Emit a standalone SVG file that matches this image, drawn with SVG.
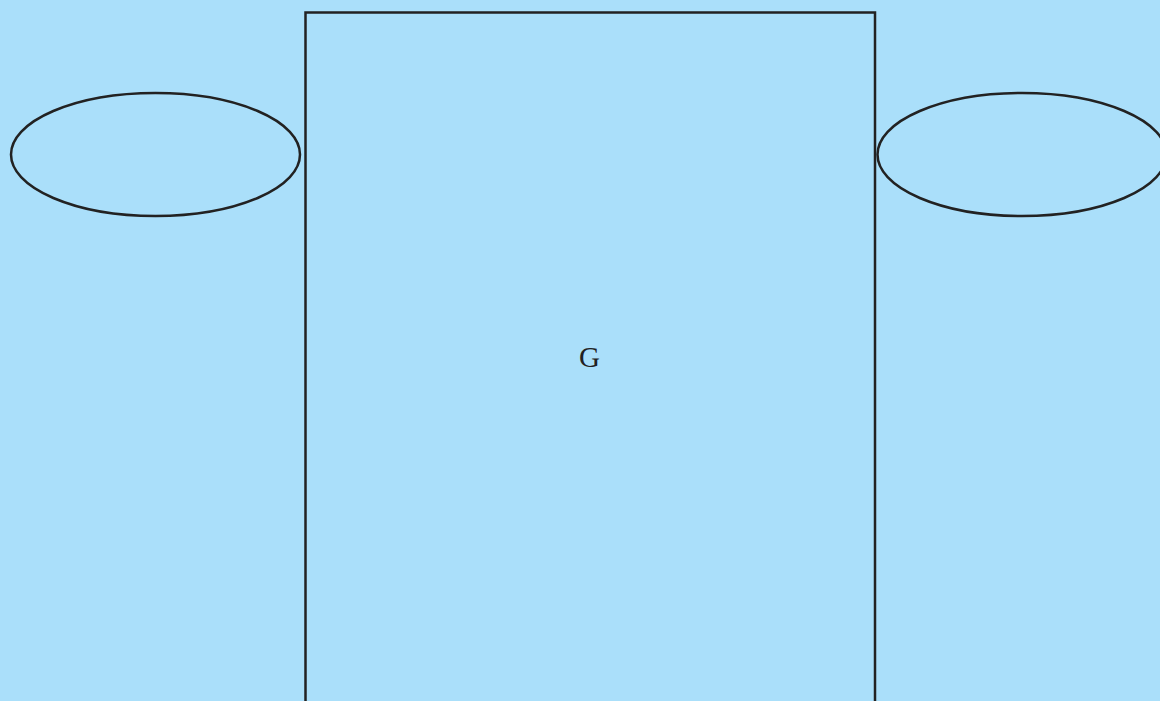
<svg xmlns="http://www.w3.org/2000/svg" width="1160" height="701" viewBox="0 0 1160 701">
<style>
.s{fill:none;stroke:#222222;stroke-width:2.5}
.t{font-family:"Liberation Serif",serif;font-size:29px;fill:#222222;text-anchor:middle}
</style>
<rect width="1160" height="701" fill="#aadffa"/>
<g id="node-G"><rect class="s" x="305.5" y="12.5" width="569.5" height="700"/><text class="t" x="589.5" y="367">G</text></g>
<g id="node-left"><ellipse class="s" cx="155.5" cy="154.5" rx="144.5" ry="61.5"/></g>
<g id="node-right"><ellipse class="s" cx="1022" cy="154.5" rx="144.5" ry="61.5"/></g>
<g id="connectors"></g>
</svg>
